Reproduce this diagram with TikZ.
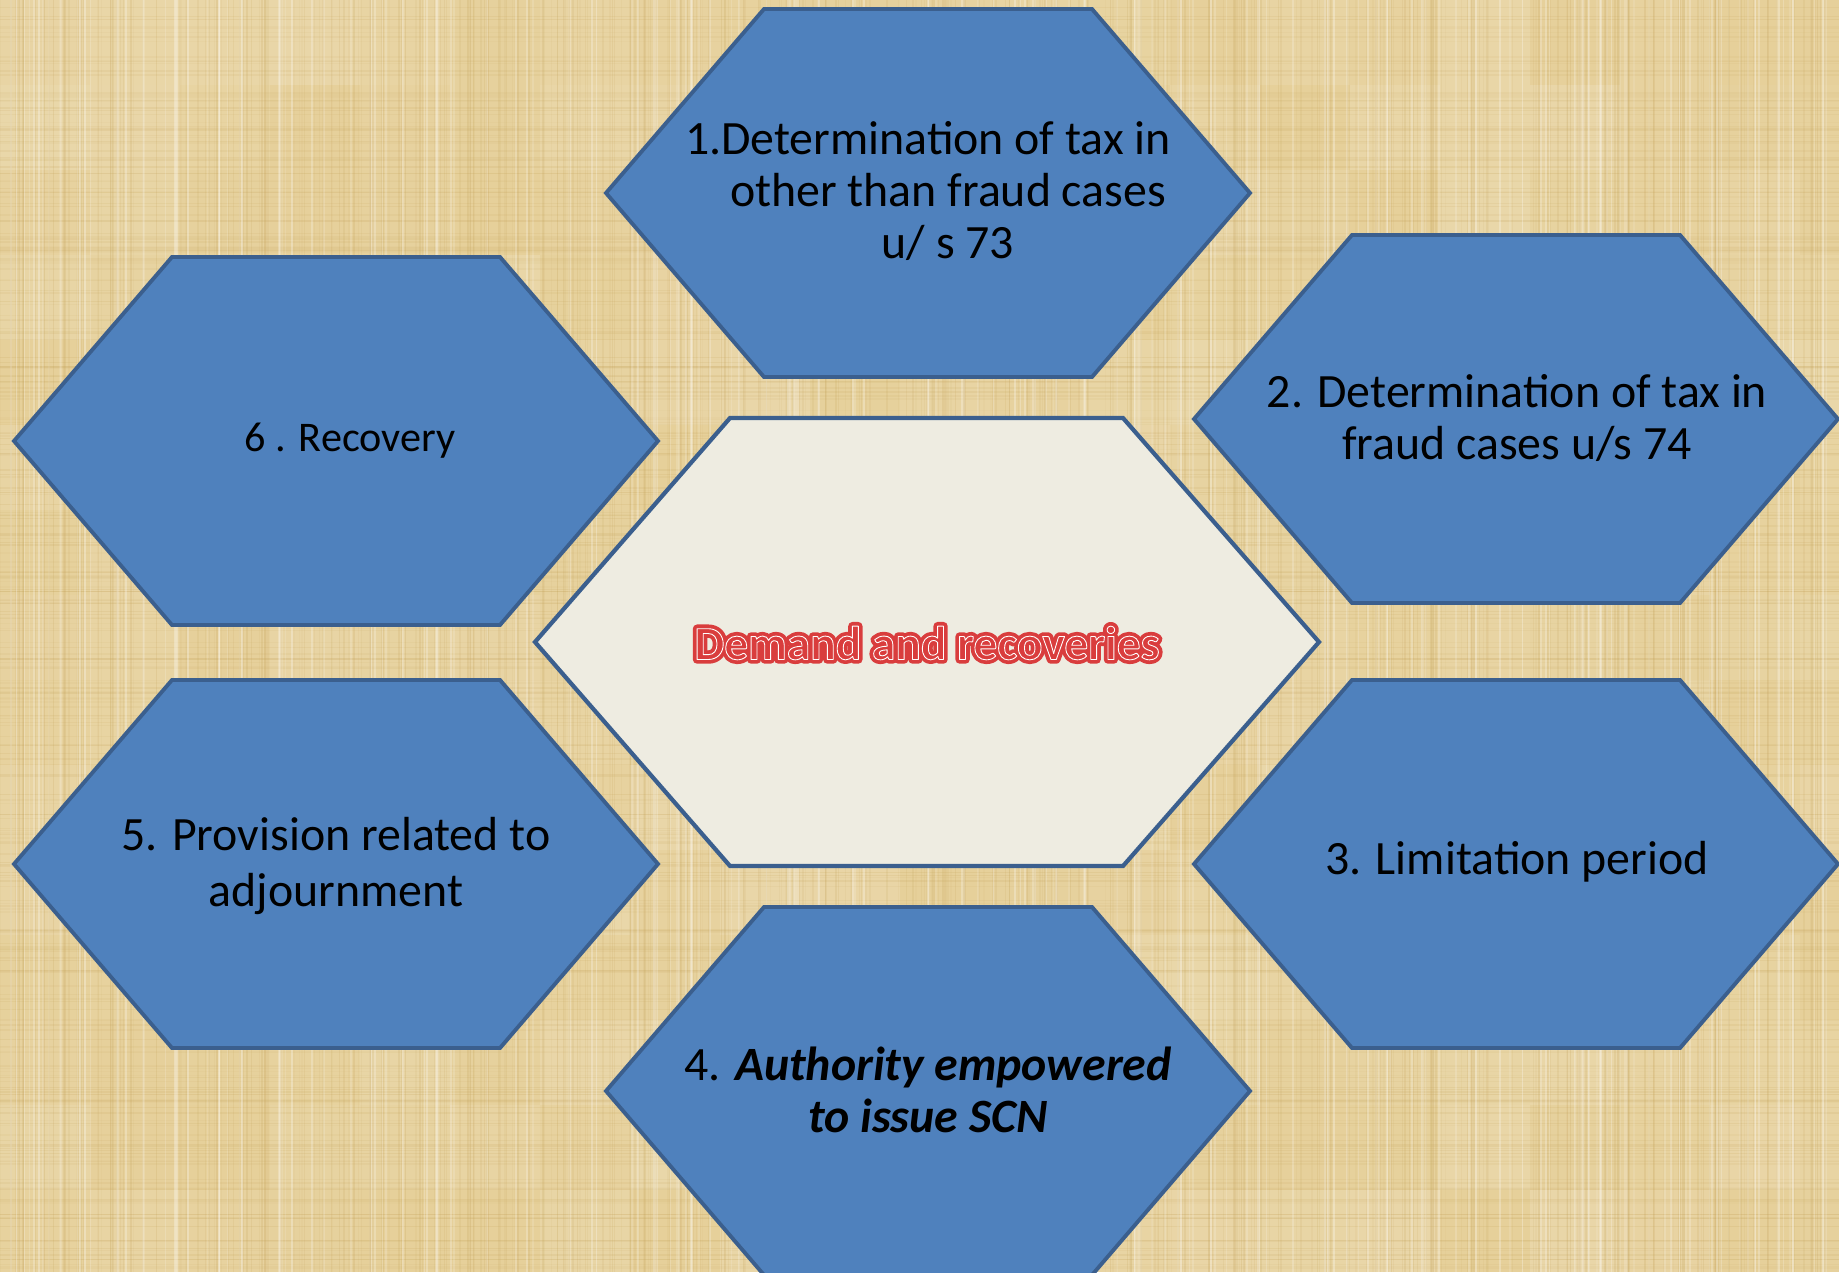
\documentclass[tikz,border=0pt]{standalone}
\usepackage{fontspec}
\setmainfont{Carlito}
\usetikzlibrary{calc}
\definecolor{hexblue}{HTML}{4F81BD}
\definecolor{hexedge}{HTML}{3B5F8E}
\definecolor{hexcore}{HTML}{EEECE1}
\definecolor{paper}{HTML}{E6D09A}
\definecolor{paperdark}{HTML}{C4A258}
\definecolor{coretext}{HTML}{DA3C3C}

\begin{document}
\begin{tikzpicture}[x=0.01cm,y=-0.01cm,
  hexcell/.style={fill=hexblue,draw=hexedge,line width=1.1pt,line join=miter},
  corecell/.style={fill=hexcore,draw=hexedge,line width=1.2pt,line join=miter},
  celltext/.style={align=center,text=black,font=\fontsize{13.6}{14.7}\selectfont},
  coretxt/.style={font=\bfseries\fontsize{13.5}{16}\selectfont}]

  \useasboundingbox (0,0) rectangle (1839,1272);
  \clip (0,0) rectangle (1839,1272);

  % parchment background
  \fill[paper] (0,0) rectangle (1839,1272);
  \pgfmathsetseed{11}
  \foreach \i in {0,...,20}
  \foreach \j in {0,...,15}
  {
    \pgfmathsetmacro\op{0.16*rnd}
    \fill[white,opacity=\op] (\i*90,\j*85) rectangle ++(90,85);
  }
  \foreach \i in {1,...,420}
  {
    \pgfmathsetmacro\xx{1839*rnd}
    \pgfmathsetmacro\op{0.05+0.15*rnd}
    \draw[paperdark,opacity=\op,line width=0.4pt] (\xx,0) -- (\xx,1272);
  }
  \foreach \i in {1,...,300}
  {
    \pgfmathsetmacro\yy{1272*rnd}
    \pgfmathsetmacro\op{0.04+0.12*rnd}
    \draw[paperdark,opacity=\op,line width=0.4pt] (0,\yy) -- (1839,\yy);
  }
  \foreach \i in {1,...,200}
  {
    \pgfmathsetmacro\xx{1839*rnd}
    \pgfmathsetmacro\op{0.1+0.2*rnd}
    \draw[white,opacity=\op,line width=0.5pt] (\xx,0) -- (\xx,1272);
  }

  % outer cells
  \foreach \cx/\cy in {928/193, 1516/419, 1516/864, 928/1091, 336/864, 336/441}
  {
    \draw[hexcell] (\cx-322,\cy) -- (\cx-164,\cy-184) -- (\cx+164,\cy-184)
      -- (\cx+322,\cy) -- (\cx+164,\cy+184) -- (\cx-164,\cy+184) -- cycle;
  }
  % centre cell
  \draw[corecell] (535,642) -- (730,418) -- (1123,418) -- (1319,642)
    -- (1123,866) -- (730,866) -- cycle;

  % labels
  \node[celltext] (tax73) at (948,191)
    {\hspace*{-0.4cm}1.Determination of tax in\\ other than fraud cases\\ u/ s 73};
  \node[celltext] (tax74) at (1517,418)
    {2. Determination of tax in\\ fraud cases u/s 74};
  \node[celltext] (limit) at (1517,862) {3. Limitation period};
  \node[celltext] (scn) at (928,1090)
    {4. \textbf{\textit{Authority empowered}}\\ \textbf{\textit{to issue SCN}}};
  \node[celltext,font=\fontsize{13.6}{16}\selectfont] (adjourn) at (336,866)
    {5. Provision related to\\ adjournment};
  \node[celltext,font=\fontsize{12}{14}\selectfont] (recov) at (350,441)
    {6 . Recovery};

  % title in the centre cell
  \node[coretxt,text=black!50,opacity=0.5] (coreshadow) at (929,647) {Demand and recoveries};
  \node[coretxt,text=coretext] (core) at (927,643)
    {\special{pdf:literal direct 2 Tr 2.4 w 1 j 0.85 0.24 0.24 RG}Demand and recoveries\special{pdf:literal direct 0 Tr}};
  \node[coretxt,text=coretext] (coreline) at (927,643)
    {\special{pdf:literal direct 1 Tr 0.25 w 1 j 1 1 1 RG}Demand and recoveries\special{pdf:literal direct 0 Tr}};
\end{tikzpicture}
\end{document}
